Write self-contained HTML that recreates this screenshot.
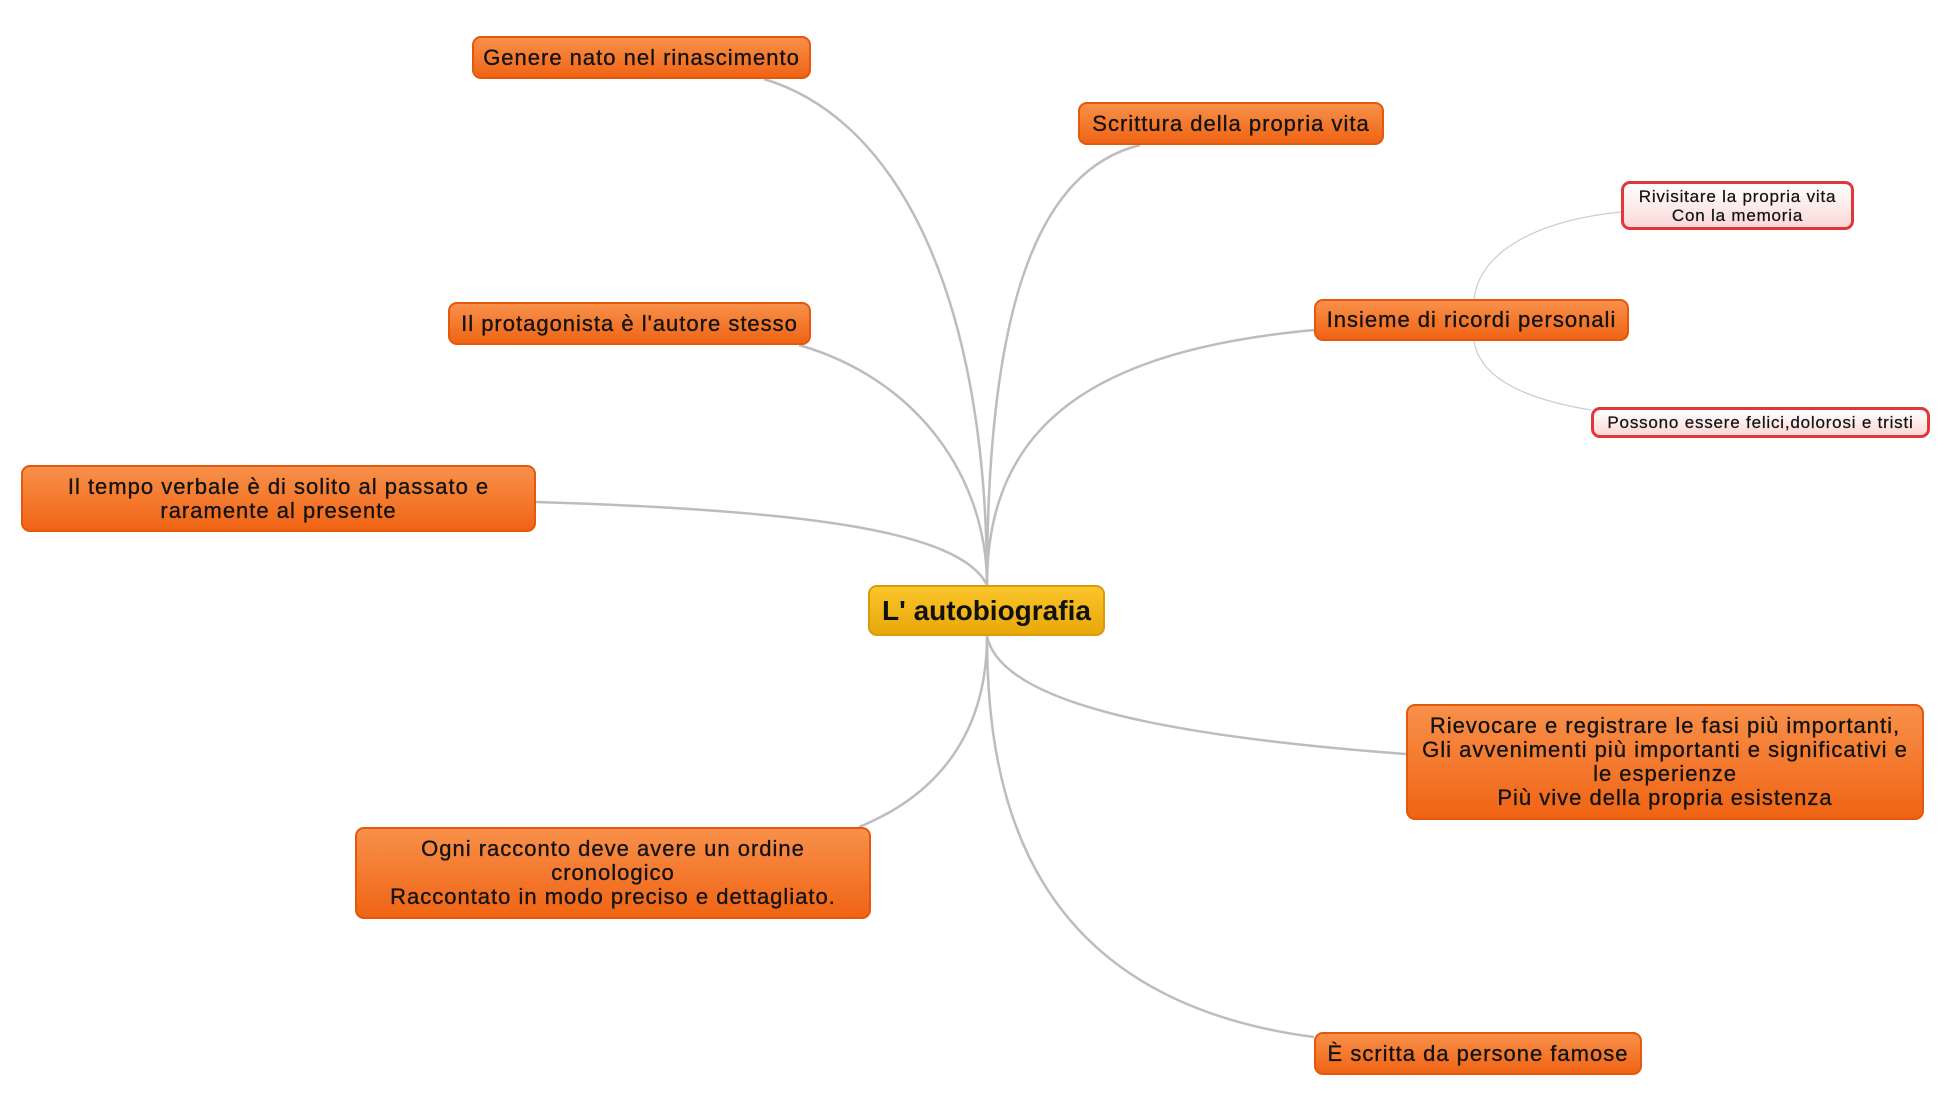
<!DOCTYPE html>
<html><head><meta charset="utf-8">
<style>
html,body{margin:0;padding:0;background:#fff;}
body{width:1958px;height:1108px;position:relative;overflow:hidden;font-family:"Liberation Sans","DejaVu Sans",sans-serif;}
.n{position:absolute;box-sizing:border-box;display:flex;align-items:center;justify-content:center;text-align:center;white-space:nowrap;
background:linear-gradient(#f8904a,#f06414);border:2px solid #e2580c;border-radius:9px;color:#141414;font-size:22px;line-height:24px;letter-spacing:1px;-webkit-text-stroke:0.35px #141414;}
.s{position:absolute;box-sizing:border-box;display:flex;align-items:center;justify-content:center;text-align:center;white-space:nowrap;
background:linear-gradient(#fff,#fbd8d8);border:3px solid #e0383a;border-radius:9px;color:#141414;font-size:17px;line-height:19px;letter-spacing:0.8px;-webkit-text-stroke:0.25px #141414;}
.c{position:absolute;box-sizing:border-box;display:flex;align-items:center;justify-content:center;
background:linear-gradient(#fbc52a,#e8a80a);border:2px solid #d99a10;border-radius:9px;color:#111;font-size:28px;font-weight:bold;}
svg{position:absolute;left:0;top:0;}
</style></head><body>
<svg width="1958" height="1108">
<g fill="none" stroke="#bdbdbd" stroke-width="2.5">
<path d="M987 585 C987 300 900 120 764 79"/>
<path d="M987 585 C987 300 1040 170 1140 145"/>
<path d="M987 585 C987 420 1100 350 1314 330"/>
<path d="M987 585 C987 480 920 380 799 345"/>
<path d="M987 585 C960 530 800 510 536 502"/>
<path d="M987 636 C1000 700 1150 735 1406 754"/>
<path d="M987 636 C987 720 950 790 859 827"/>
<path d="M987 636 C987 800 1030 1000 1314 1037"/>
</g>
<g fill="none" stroke="#cccccc" stroke-width="1.2">
<path d="M1474 299 C1480 250 1540 220 1621 212"/>
<path d="M1474 341 C1480 380 1530 400 1591 410"/>
</g>
</svg>
<div class="n" style="left:472px;top:36px;width:339px;height:43px;">Genere nato nel rinascimento</div>
<div class="n" style="left:1078px;top:102px;width:306px;height:43px;">Scrittura della propria vita</div>
<div class="s" style="left:1621px;top:181px;width:233px;height:49px;">Rivisitare la propria vita<br>Con la memoria</div>
<div class="n" style="left:1314px;top:299px;width:315px;height:42px;">Insieme di ricordi personali</div>
<div class="s" style="left:1591px;top:407px;width:339px;height:31px;">Possono essere felici,dolorosi e tristi</div>
<div class="n" style="left:448px;top:302px;width:363px;height:43px;">Il protagonista è l'autore stesso</div>
<div class="n" style="left:21px;top:465px;width:515px;height:67px;">Il tempo verbale è di solito al passato e<br>raramente al presente</div>
<div class="c" style="left:868px;top:585px;width:237px;height:51px;">L' autobiografia</div>
<div class="n" style="left:1406px;top:704px;width:518px;height:116px;">Rievocare e registrare le fasi più importanti,<br>Gli avvenimenti più importanti e significativi e<br>le esperienze<br>Più vive della propria esistenza</div>
<div class="n" style="left:355px;top:827px;width:516px;height:92px;">Ogni racconto deve avere un ordine<br>cronologico<br>Raccontato in modo preciso e dettagliato.</div>
<div class="n" style="left:1314px;top:1032px;width:328px;height:43px;">È scritta da persone famose</div>
</body></html>
